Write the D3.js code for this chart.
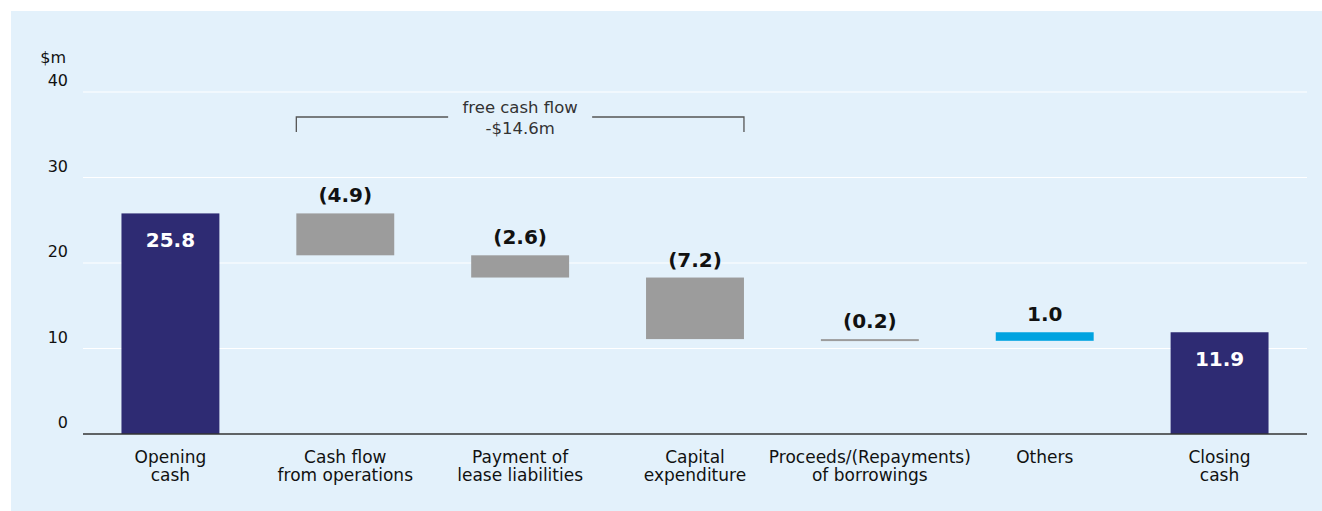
<!DOCTYPE html>
<html>
<head>
<meta charset="utf-8">
<script src="https://cdn.jsdelivr.net/npm/d3@7"></script>
<style>
  body { margin: 0; background: #ffffff; }
  svg { display: block; font-family: 'DejaVu Sans', sans-serif; }
</style>
</head>
<body>
<div id="chart"></div>
<script>
// chart data
const categories = [
  ['Opening', 'cash'],
  ['Cash flow', 'from operations'],
  ['Payment of', 'lease liabilities'],
  ['Capital', 'expenditure'],
  ['Proceeds/(Repayments)', 'of borrowings'],
  ['Others'],
  ['Closing', 'cash']
];
const kinds = ['total', 'change', 'change', 'change', 'change', 'change', 'total'];
const values = [25.8, -4.9, -2.6, -7.2, -0.2, 1.0, 11.9];
const valueLabels = ['25.8', '(4.9)', '(2.6)', '(7.2)', '(0.2)', '1.0', '11.9'];
const yTicks = [0, 10, 20, 30, 40];
const bracketText = ['free cash flow', '-$14.6m'];
const bracketFrom = 1;
const bracketTo = 3;

const width = 1322;
const height = 511;
const margin = { top: 92, right: 15, bottom: 77, left: 83 };

const svg = d3.select('#chart')
    .append('svg')
    .attr('width', width)
    .attr('height', height);

// panel background
svg.append('rect')
    .attr('x', 11)
    .attr('y', 11)
    .attr('width', width - 11)
    .attr('height', height - 11)
    .attr('fill', '#e3f1fb');

const x = d3.scaleBand()
    .domain(d3.range(categories.length))
    .range([margin.left, width - margin.right])
    .paddingInner(0.44)
    .paddingOuter(0.22);

const y = d3.scaleLinear()
    .domain([0, 40])
    .range([height - margin.bottom, margin.top]);

// running totals for the waterfall
let running = 0;
const bars = values.map((v, i) => {
  let start, end;
  if (kinds[i] === 'total') {
    start = 0; end = v; running = v;
  } else {
    start = running; end = running + v; running = end;
  }
  return { i, v, start, end, kind: kinds[i] };
});

// gridlines
svg.append('g')
    .selectAll('line')
    .data(yTicks.filter(d => d > 0))
    .join('line')
    .attr('x1', margin.left)
    .attr('x2', width - margin.right)
    .attr('y1', d => y(d))
    .attr('y2', d => y(d))
    .attr('stroke', '#ffffff')
    .attr('stroke-width', 1);

// y labels sit just above their gridline
svg.append('g')
    .selectAll('text')
    .data(yTicks)
    .join('text')
    .attr('x', 68)
    .attr('y', d => y(d) - 6)
    .attr('text-anchor', 'end')
    .attr('font-size', 16)
    .attr('fill', '#111')
    .text(d => d);

svg.append('text')
    .attr('x', 66)
    .attr('y', y(40) - 29)
    .attr('text-anchor', 'end')
    .attr('font-size', 16)
    .attr('fill', '#111')
    .text('$m');

// bars
function barColor(d) {
  if (d.kind === 'total') return '#2e2b73';
  return d.v < 0 ? '#9c9c9c' : '#00a3e0';
}

svg.append('g')
    .selectAll('rect')
    .data(bars)
    .join('rect')
    .attr('x', d => x(d.i))
    .attr('width', x.bandwidth())
    .attr('y', d => y(Math.max(d.start, d.end)))
    .attr('height', d => Math.max(2, Math.abs(y(d.start) - y(d.end))))
    .attr('fill', barColor);

// x axis line
svg.append('line')
    .attr('x1', margin.left)
    .attr('x2', width - margin.right)
    .attr('y1', y(0))
    .attr('y2', y(0))
    .attr('stroke', '#333')
    .attr('stroke-width', 1.5);

// value labels
svg.append('g')
    .selectAll('text')
    .data(bars)
    .join('text')
    .attr('x', d => x(d.i) + x.bandwidth() / 2)
    .attr('y', d => d.kind === 'total'
        ? y(d.end) + 34
        : y(Math.max(d.start, d.end)) - 11)
    .attr('text-anchor', 'middle')
    .attr('font-size', 20)
    .attr('font-weight', 'bold')
    .attr('fill', d => d.kind === 'total' ? '#ffffff' : '#111')
    .text(d => valueLabels[d.i]);

// category labels
const catText = svg.append('g')
    .selectAll('text')
    .data(categories)
    .join('text')
    .attr('x', (d, i) => x(i) + x.bandwidth() / 2)
    .attr('y', y(0) + 29)
    .attr('text-anchor', 'middle')
    .attr('font-size', 17)
    .attr('fill', '#111');

catText.selectAll('tspan')
    .data(d => d)
    .join('tspan')
    .attr('x', function() { return d3.select(this.parentNode).attr('x'); })
    .attr('dy', (d, i) => i === 0 ? 0 : 18)
    .text(d => d);

// free cash flow bracket
const bx1 = x(bracketFrom);
const bx2 = x(bracketTo) + x.bandwidth();
const bMid = (bx1 + bx2) / 2;
const bY = 117;
const gap = 72;

svg.append('path')
    .attr('d', `M${bx1},${bY + 15}V${bY}H${bMid - gap}M${bMid + gap},${bY}H${bx2}V${bY + 15}`)
    .attr('fill', 'none')
    .attr('stroke', '#555')
    .attr('stroke-width', 1.3);

svg.append('g')
    .selectAll('text')
    .data(bracketText)
    .join('text')
    .attr('x', bMid)
    .attr('y', (d, i) => 113 + i * 21)
    .attr('text-anchor', 'middle')
    .attr('font-size', 16.5)
    .attr('fill', '#333')
    .text(d => d);
</script>
</body>
</html>
